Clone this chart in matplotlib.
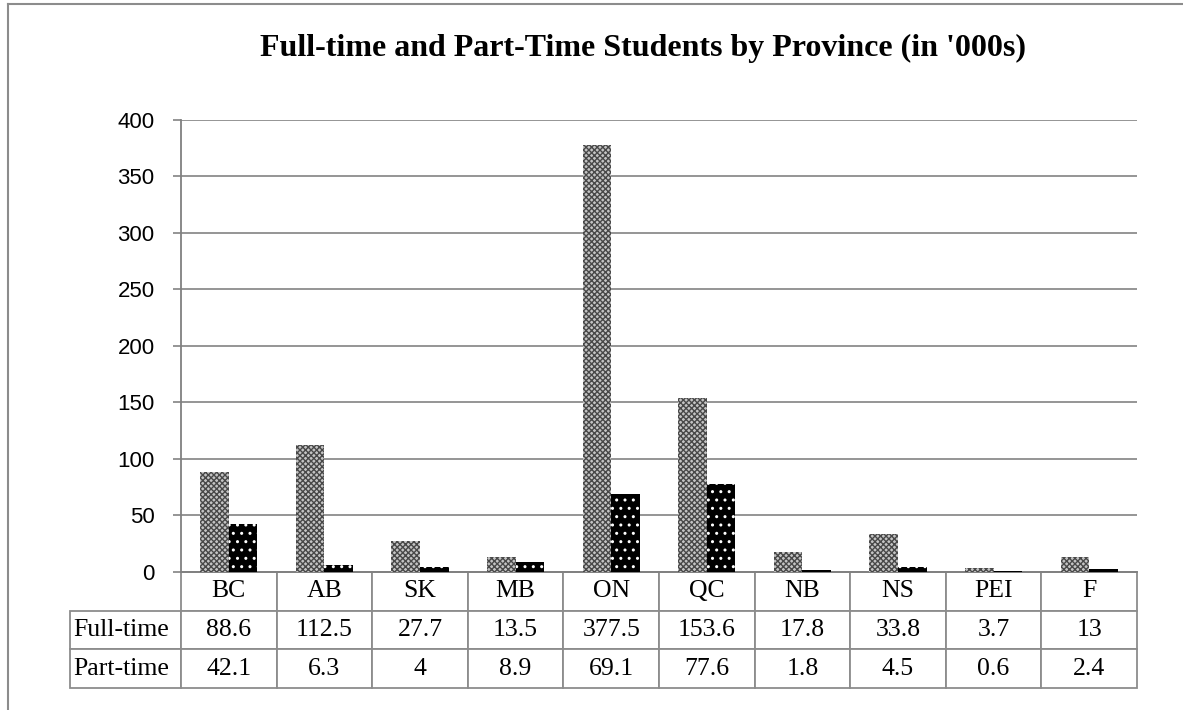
import matplotlib.pyplot as plt
import numpy as np
from matplotlib.lines import Line2D

provinces = ["BC", "AB", "SK", "MB", "ON", "QC", "NB", "NS", "PEI", "F"]
full_time = [88.6, 112.5, 27.7, 13.5, 377.5, 153.6, 17.8, 33.8, 3.7, 13]
part_time = [42.1, 6.3, 4, 8.9, 69.1, 77.6, 1.8, 4.5, 0.6, 2.4]
row_labels = ["Full-time", "Part-time"]
y_ticks = [0, 50, 100, 150, 200, 250, 300, 350, 400]

plt.rcParams["hatch.linewidth"] = 1.0

fig = plt.figure(figsize=(11.83, 7.10), dpi=100)
ax = fig.add_axes([0.1530, 0.1944, 0.8081, 0.6366])

x = np.arange(len(provinces))
w = 0.3
ax.bar(x - w / 2, full_time, w, color="#c4c4c4", edgecolor="#484848",
       hatch="xxxxxx", linewidth=0, zorder=3)
ax.bar(x + w / 2, part_time, w, color="black", edgecolor="white",
       hatch="..", linewidth=0, zorder=3)

ax.set_xlim(-0.5, len(provinces) - 0.5)
ax.set_ylim(0, 400)
ax.set_yticks(y_ticks)
ax.set_xticks([])
ax.grid(axis="y", color="#8c8c8c", linewidth=1.3, zorder=0)
for s in ["top", "right"]:
    ax.spines[s].set_visible(False)
for s in ["bottom", "left"]:
    ax.spines[s].set_color("#808080")
    ax.spines[s].set_linewidth(1.3)
ax.tick_params(axis="y", length=6, width=1.3, color="#8c8c8c", pad=13,
               labelsize=16)
for lab in ax.get_yticklabels():
    lab.set_fontfamily("Liberation Sans")

# data table under the plot
cell_text = [[""] + provinces]
for name, vals in zip(row_labels, [full_time, part_time]):
    cell_text.append([name] + [f"{v:g}" for v in vals])
col_w = [111] + [95.6] * len(provinces)
tbl = ax.table(cellText=cell_text, colWidths=col_w, cellLoc="center",
               bbox=[-0.1161, -0.2566, 1.1161, 0.2566])
tbl.auto_set_font_size(False)
for (r, c), cell in tbl.get_celld().items():
    cell.set_edgecolor("#8c8c8c")
    cell.set_linewidth(1.3)
    cell.get_text().set_fontfamily("Liberation Serif")
    cell.get_text().set_fontsize(18.5)
    if c == 0:
        cell.get_text().set_ha("left")
        cell._loc = "left"
        cell.PAD = 0.03
    if r == 0 and c == 0:
        cell.visible_edges = ""

fig.text(0.5435, 0.932, "Full-time and Part-Time Students by Province (in '000s)",
         ha="center", va="center", fontsize=23, fontweight="bold",
         family="Liberation Serif")

# chart border
fig.add_artist(Line2D([0.0068, 1.0], [0.994, 0.994], color="#8c8c8c", lw=1.5))
fig.add_artist(Line2D([0.0068, 0.0068], [0.0, 0.994], color="#8c8c8c", lw=1.5))

fig.savefig("out.png", dpi=100)
